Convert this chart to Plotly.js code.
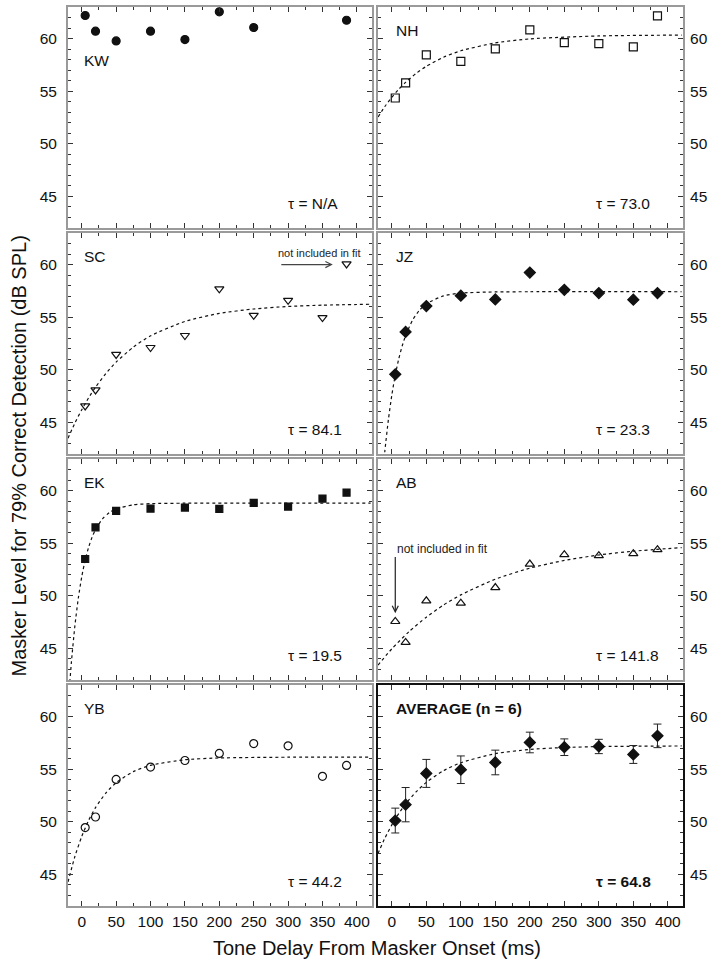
<!DOCTYPE html>
<html>
<head>
<meta charset="utf-8">
<script src="https://cdn.plot.ly/plotly-3.0.1.min.js"></script>
<style>html,body{margin:0;padding:0;background:#fff;}#chart{width:714px;height:966px;}</style>
</head>
<body>
<div id="chart"></div>
<script>
// ---- data ----
const delays   = [5, 20, 50, 100, 150, 200, 250, 300, 350, 385];
const kwDelays = [5, 20, 50, 100, 150, 200, 250, 385];
const kw  = [62.19, 60.70, 59.78, 60.70, 59.90, 62.54, 61.05, 61.74];
const nh  = [54.35, 55.78, 58.45, 57.84, 59.02, 60.82, 59.62, 59.52, 59.21, 62.16];
const sc  = [46.57, 48.09, 51.46, 52.12, 53.26, 57.70, 55.18, 56.60, 54.96, 60.06];
const jz  = [49.57, 53.60, 56.06, 57.04, 56.69, 59.24, 57.60, 57.29, 56.66, 57.29];
const ek  = [53.50, 56.50, 58.07, 58.29, 58.39, 58.26, 58.83, 58.48, 59.24, 59.81];
const ab  = [47.56, 45.57, 49.52, 49.30, 50.78, 53.02, 53.91, 53.81, 54.00, 54.38];
const yb  = [49.45, 50.46, 54.03, 55.20, 55.83, 56.50, 57.44, 57.22, 54.32, 55.36];
const avg = [50.12, 51.63, 54.60, 54.95, 55.64, 57.54, 57.09, 57.16, 56.40, 58.17];
const avgErr = [1.18, 1.63, 1.33, 1.31, 1.17, 0.98, 0.79, 0.68, 0.85, 1.12];

// fitted curves (dashed)
const nhFitX = [-20, -10, 0, 10, 20, 35, 50, 75, 100, 150, 200, 300, 420];
const nhFit  = [52.55, 53.55, 54.42, 55.18, 55.84, 56.68, 57.36, 58.23, 58.84, 59.59, 59.97, 60.25, 60.33];
const scFitX = [-20, -10, 0, 10, 20, 35, 50, 75, 100, 150, 200, 250, 300, 350, 420];
const scFit  = [43.50, 44.94, 46.21, 47.34, 48.35, 49.64, 50.73, 52.16, 53.23, 54.60, 55.36, 55.78, 56.02, 56.14, 56.23];
const jzFitX = [-12, -10, -5, 0, 5, 10, 15, 20, 30, 40, 50, 75, 100, 150, 200, 420];
const jzFit  = [40.98, 42.34, 45.25, 47.60, 49.50, 51.03, 52.26, 53.26, 54.71, 55.66, 56.27, 57.03, 57.29, 57.40, 57.42, 57.42];
const ekFitX = [-18, -15, -10, -5, 0, 5, 10, 15, 20, 30, 40, 50, 75, 100, 150, 420];
const ekFit  = [41.23, 43.74, 47.14, 49.78, 51.82, 53.40, 54.62, 55.57, 56.30, 57.30, 57.90, 58.26, 58.65, 58.76, 58.80, 58.80];
const abFitX = [-20, 0, 25, 50, 75, 100, 150, 200, 250, 300, 350, 420];
const abFit  = [43.42, 44.96, 46.60, 47.97, 49.13, 50.09, 51.58, 52.63, 53.36, 53.88, 54.24, 54.58];
const ybFitX = [-20, -10, 0, 10, 20, 35, 50, 75, 100, 150, 200, 300, 420];
const ybFit  = [44.29, 46.70, 48.61, 50.14, 51.35, 52.73, 53.72, 54.77, 55.37, 55.90, 56.07, 56.14, 56.15];
const avgFitX = [-20, -10, 0, 10, 20, 35, 50, 75, 100, 150, 200, 250, 300, 420];
const avgFit  = [47.00, 48.46, 49.71, 50.78, 51.70, 52.84, 53.75, 54.86, 55.62, 56.48, 56.88, 57.06, 57.15, 57.21];

const subjects = ['KW', 'NH', 'SC', 'JZ', 'EK', 'AB', 'YB', 'AVERAGE (n = 6)'];
const taus = ['N/A', '73.0', '84.1', '23.3', '19.5', '141.8', '44.2', '64.8'];
const xTicks = [0, 50, 100, 150, 200, 250, 300, 350, 400];
const yTicks = [45, 50, 55, 60];

// ---- layout helpers ----
const FONT = 'Liberation Sans, Arial, Helvetica, sans-serif';
const colDom = [[0, 0.4943], [0.5041, 1]];
const rowDom = [[0.7542, 1], [0.5028, 0.7486], [0.2514, 0.4972], [0, 0.2458]];

function ax(n) { return n === 1 ? '' : String(n); }

const layout = {
  width: 714, height: 966,
  margin: {l: 68, r: 31, t: 7, b: 60},
  paper_bgcolor: '#fff', plot_bgcolor: '#fff',
  showlegend: false,
  font: {family: FONT, color: '#111', size: 15},
  annotations: []
};

for (let i = 0; i < 8; i++) {
  const n = i + 1, row = Math.floor(i / 2), col = i % 2;
  const isAvg = (i === 7);
  const lc = isAvg ? '#111' : '#9a9a9a';
  const lw = 2;
  layout['xaxis' + ax(n)] = {
    domain: colDom[col], anchor: 'y' + ax(n), range: [-20, 422],
    showline: true, linecolor: lc, linewidth: lw, mirror: 'ticks',
    ticks: 'inside', ticklen: 5, tickwidth: 1, tickcolor: '#333',
    tickmode: 'array', tickvals: xTicks, ticktext: xTicks.map(String),
    showticklabels: row === 3, tickfont: {family: FONT, size: 15.5, color: '#111'},
    minor: {dtick: 25, tick0: 0, ticks: 'inside', ticklen: 3, tickwidth: 1, tickcolor: '#333', showgrid: false},
    showgrid: false, zeroline: false, fixedrange: true
  };
  layout['yaxis' + ax(n)] = {
    domain: rowDom[row], anchor: 'x' + ax(n), range: [42, 63],
    side: col === 0 ? 'left' : 'right',
    showline: true, linecolor: lc, linewidth: lw, mirror: 'ticks',
    ticks: 'inside', ticklen: 5, tickwidth: 1, tickcolor: '#333',
    tickmode: 'array', tickvals: yTicks, ticktext: yTicks.map(String),
    tickfont: {family: FONT, size: 15.5, color: '#111'}, ticklabelstandoff: col === 0 ? 6 : 2,
    minor: {dtick: 1, tick0: 0, ticks: 'inside', ticklen: 3, tickwidth: 1, tickcolor: '#333', showgrid: false},
    showgrid: false, zeroline: false, fixedrange: true
  };
  // subject label
  layout.annotations.push({
    xref: 'x' + ax(n), yref: 'y' + ax(n) + ' domain',
    x: col === 0 ? 0 : 3, y: i === 0 ? 0.756 : 0.893,
    xanchor: 'left', yanchor: 'middle', showarrow: false,
    text: isAvg ? '<b>' + subjects[i] + '</b>' : subjects[i],
    font: {family: FONT, size: 15.5, color: '#111'}
  });
  // tau label
  layout.annotations.push({
    xref: 'x' + ax(n), yref: 'y' + ax(n) + ' domain',
    x: col === 0 ? 297 : 293, y: 0.11,
    xanchor: 'left', yanchor: 'middle', showarrow: false,
    text: isAvg ? '<b>\u03c4 = ' + taus[i] + '</b>' : '\u03c4 = ' + taus[i],
    font: {family: FONT, size: 15.5, color: '#111'}
  });
}

// "not included in fit" notes
layout.annotations.push({xref: 'x3', yref: 'y3', x: 345, y: 61.1, showarrow: false,
  text: 'not included in fit', font: {family: FONT, size: 11, color: '#222'}, xanchor: 'center', yanchor: 'middle'});
layout.annotations.push({xref: 'x3', yref: 'y3', x: 365, y: 60.0, axref: 'x3', ayref: 'y3', ax: 288, ay: 60.0,
  text: '', showarrow: true, arrowhead: 5, arrowsize: 1, arrowwidth: 1.2, arrowcolor: '#444'});
layout.annotations.push({xref: 'x6', yref: 'y6', x: 4, y: 54.44, showarrow: false,
  text: 'not included in fit', font: {family: FONT, size: 12, color: '#222'}, xanchor: 'left', yanchor: 'middle'});
layout.annotations.push({xref: 'x6', yref: 'y6', x: 5, y: 48.35, axref: 'x6', ayref: 'y6', ax: 5, ay: 53.84,
  text: '', showarrow: true, arrowhead: 5, arrowsize: 1, arrowwidth: 1.2, arrowcolor: '#222'});

// axis titles
layout.annotations.push({xref: 'paper', yref: 'paper', x: -0.0813, y: 0.5, textangle: -90,
  showarrow: false, xanchor: 'center', yanchor: 'middle',
  text: 'Masker Level for 79% Correct Detection (dB SPL)', font: {family: FONT, size: 20, color: '#111'}});
layout.annotations.push({xref: 'paper', yref: 'paper', x: 0.502, y: -0.0467,
  showarrow: false, xanchor: 'center', yanchor: 'middle',
  text: 'Tone Delay From Masker Onset (ms)', font: {family: FONT, size: 20, color: '#111'}});

// ---- traces ----
const dashLine = {color: '#111', width: 1.2, dash: '3px,3px', shape: 'spline', smoothing: 0.6};
function fit(xs, ys, n) {
  return {type: 'scatter', mode: 'lines', x: xs, y: ys, xaxis: 'x' + ax(n), yaxis: 'y' + ax(n),
    line: dashLine, hoverinfo: 'skip', cliponaxis: true};
}
function pts(xs, ys, n, symbol, size, extra) {
  return Object.assign({type: 'scatter', mode: 'markers', x: xs, y: ys, xaxis: 'x' + ax(n), yaxis: 'y' + ax(n),
    marker: {symbol: symbol, size: size, color: '#111', line: {color: '#111', width: 1.2}}, cliponaxis: false}, extra || {});
}

const traces = [
  pts(kwDelays, kw, 1, 'circle', 8),
  fit(nhFitX, nhFit, 2), pts(delays, nh, 2, 'square-open', 8),
  fit(scFitX, scFit, 3), pts(delays, sc, 3, 'triangle-down-open', 8),
  fit(jzFitX, jzFit, 4), pts(delays, jz, 4, 'diamond', 8.5),
  fit(ekFitX, ekFit, 5), pts(delays, ek, 5, 'square', 7),
  fit(abFitX, abFit, 6), pts(delays, ab, 6, 'triangle-up-open', 8),
  fit(ybFitX, ybFit, 7), pts(delays, yb, 7, 'circle-open', 8),
  fit(avgFitX, avgFit, 8),
  pts(delays, avg, 8, 'diamond', 8.5, {error_y: {type: 'data', array: avgErr, visible: true, color: '#222', thickness: 1, width: 4}})
];

Plotly.newPlot('chart', traces, layout, {staticPlot: true, displayModeBar: false});
</script>
</body>
</html>
